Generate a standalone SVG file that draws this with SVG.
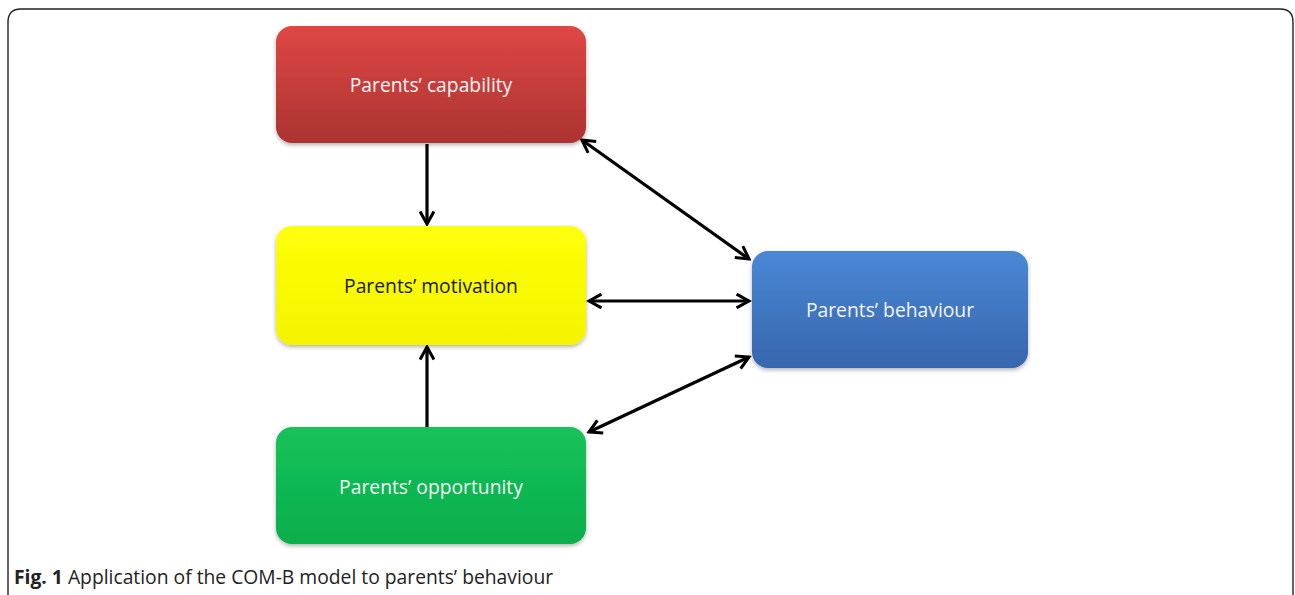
<svg xmlns="http://www.w3.org/2000/svg" width="1295" height="595" viewBox="0 0 1295 595">
<style>
.lbl{font-family:"Open Sans","Liberation Sans",sans-serif;font-size:19.3px;text-anchor:middle;dominant-baseline:central}
.w{fill:#f4f4f4}
.k{fill:#1a1a1a}
.c{stroke:#000;stroke-width:3.2;fill:none;marker-start:url(#ah);marker-end:url(#ah)}
.c1{stroke:#000;stroke-width:3.2;fill:none;marker-end:url(#ah)}
.cap{font-family:"Open Sans","Liberation Sans",sans-serif;font-size:19.3px;fill:#222}
</style>
<defs>
<marker id="ah" viewBox="0 0 12 12" refX="10" refY="6" markerWidth="5.2" markerHeight="5.2" orient="auto-start-reverse" markerUnits="strokeWidth">
<path d="M1,1 L10,6 L1,11" fill="none" stroke="#000" stroke-width="2.2"/>
</marker>
<linearGradient id="gr" x1="0" y1="0" x2="0" y2="1"><stop offset="0" stop-color="#df4744"/><stop offset="1" stop-color="#ab3431"/></linearGradient>
<linearGradient id="gy" x1="0" y1="0" x2="0" y2="1"><stop offset="0" stop-color="#ffff08"/><stop offset="1" stop-color="#f4f400"/></linearGradient>
<linearGradient id="gg" x1="0" y1="0" x2="0" y2="1"><stop offset="0" stop-color="#17c25a"/><stop offset="1" stop-color="#08ae4c"/></linearGradient>
<linearGradient id="gb" x1="0" y1="0" x2="0" y2="1"><stop offset="0" stop-color="#4a88d6"/><stop offset="1" stop-color="#3766ad"/></linearGradient>
<filter id="sh" x="-10%" y="-10%" width="120%" height="130%"><feDropShadow dx="0" dy="2" stdDeviation="2" flood-color="#000" flood-opacity="0.3"/></filter>
</defs>
<rect width="1295" height="595" fill="#fff"/>
<path d="M8,600 L8,22 Q8,9 21,9 L1280,9 Q1293,9 1293,22 L1293,600" fill="none" stroke="#222" stroke-width="1.4"/>
<g id="connectors">
<line class="c1" x1="427" y1="144" x2="427" y2="224"/>
<line class="c1" x1="427" y1="427" x2="427" y2="347"/>
<line class="c" x1="582" y1="140" x2="749" y2="259"/>
<line class="c" x1="589" y1="301" x2="749" y2="301"/>
<line class="c" x1="589" y1="432" x2="749" y2="357"/>
</g>
<g id="capability">
<rect x="276" y="26" width="310" height="117" rx="16" fill="url(#gr)" filter="url(#sh)"/>
<text class="lbl w" x="431" y="84">Parents’ capability</text>
</g>
<g id="motivation">
<rect x="276" y="226" width="310" height="119" rx="16" fill="url(#gy)" filter="url(#sh)"/>
<text class="lbl k" x="431" y="285">Parents’ motivation</text>
</g>
<g id="opportunity">
<rect x="276" y="427" width="310" height="117" rx="16" fill="url(#gg)" filter="url(#sh)"/>
<text class="lbl w" x="431" y="486">Parents’ opportunity</text>
</g>
<g id="behaviour">
<rect x="752" y="251" width="276" height="117" rx="16" fill="url(#gb)" filter="url(#sh)"/>
<text class="lbl w" x="890" y="309">Parents’ behaviour</text>
</g>
<text class="cap" x="14" y="584"><tspan font-weight="bold">Fig. 1</tspan> Application of the COM-B model to parents’ behaviour</text>
</svg>
